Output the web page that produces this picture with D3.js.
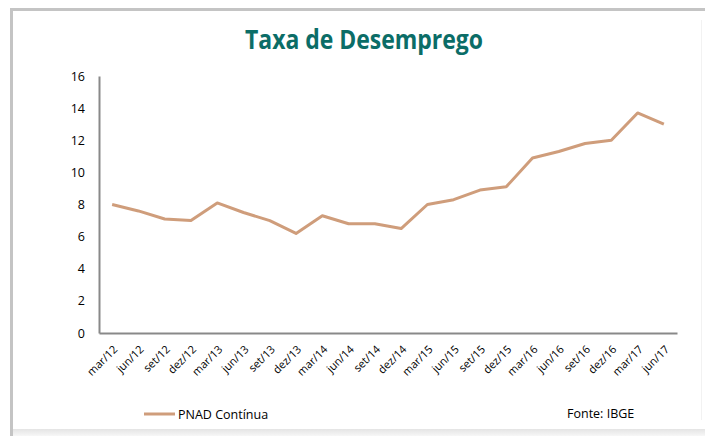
<!DOCTYPE html>
<html lang='pt'>
<head>
<meta charset='utf-8'>
<title>Taxa de Desemprego</title>
<script src='https://d3js.org/d3.v7.min.js'></script>
<style>
  body { margin: 0; background: #fff; }
  text { font-family: 'Open Sans', sans-serif; }
</style>
</head>
<body>
<script>
'use strict'
// trimestres
const periods = ['mar/12', 'jun/12', 'set/12', 'dez/12', 'mar/13', 'jun/13', 'set/13', 'dez/13',
  'mar/14', 'jun/14', 'set/14', 'dez/14', 'mar/15', 'jun/15', 'set/15', 'dez/15',
  'mar/16', 'jun/16', 'set/16', 'dez/16', 'mar/17', 'jun/17']
// taxa de desemprego (%)
const pnad = [8.0, 7.6, 7.1, 7.0, 8.1, 7.5, 7.0, 6.2, 7.3, 6.8, 6.8, 6.5,
  8.0, 8.3, 8.9, 9.1, 10.9, 11.3, 11.8, 12.0, 13.7, 13.0]
const yTicks = [0, 2, 4, 6, 8, 10, 12, 14, 16]

const W = 705, H = 436
const plot = {left: 99, right: 677, top: 76, bottom: 333}
const lineColor = '#cf9d7b'
const axisColor = '#898989'

const svg = d3.select('body').append('svg')
  .attr('width', W)
  .attr('height', H)

// moldura
const grad = svg.append('defs').append('linearGradient')
  .attr('id', 'shade').attr('x1', 0).attr('y1', 0).attr('x2', 0).attr('y2', 1)
grad.append('stop').attr('offset', '0%').attr('stop-color', '#e4e4e4')
grad.append('stop').attr('offset', '100%').attr('stop-color', '#f7f7f7')
svg.append('rect').attr('x', 10).attr('y', 429).attr('width', W - 10).attr('height', 7)
  .attr('fill', 'url(#shade)')
svg.append('rect').attr('x', 10).attr('y', 8).attr('width', W - 10).attr('height', 3).attr('fill', '#c4c4c4')
svg.append('rect').attr('x', 10).attr('y', 8).attr('width', 3).attr('height', H - 8).attr('fill', '#c4c4c4')
svg.append('rect').attr('x', 701).attr('y', 20).attr('width', 1).attr('height', 400).attr('fill', '#f2f2f2')

svg.append('text')
  .attr('x', 364).attr('y', 49)
  .attr('text-anchor', 'middle')
  .attr('font-size', 26)
  .attr('font-weight', 'bold')
  .attr('fill', '#0b6d67')
  .attr('textLength', 238)
  .attr('lengthAdjust', 'spacingAndGlyphs')
  .text('Taxa de Desemprego')

const x = d3.scaleBand().domain(periods).range([plot.left, plot.right])
const y = d3.scaleLinear().domain([0, 16]).range([plot.bottom, plot.top])

const yAxis = svg.append('g')
  .attr('transform', `translate(${plot.left},0)`)
  .call(d3.axisLeft(y).tickValues(yTicks).tickSize(0).tickPadding(14))
yAxis.select('.domain').attr('stroke', axisColor).attr('stroke-width', 2)
yAxis.selectAll('text').attr('font-size', 12.5).attr('fill', '#000')
  .attr('font-family', "'Open Sans', sans-serif")

const xAxis = svg.append('g')
  .attr('transform', `translate(0,${plot.bottom})`)
  .call(d3.axisBottom(x).tickSize(0).tickPadding(0))
xAxis.select('.domain').attr('stroke', axisColor).attr('stroke-width', 2)
xAxis.selectAll('text')
  .attr('font-size', 11)
  .attr('font-family', "'Open Sans', sans-serif")
  .attr('fill', '#000')
  .attr('text-anchor', 'end')
  .attr('dy', null)
  .attr('y', 0)
  .attr('transform', 'translate(6,17) rotate(-45)')

const line = d3.line()
  .x((d, i) => x(periods[i]) + x.bandwidth() / 2)
  .y(d => y(d))

svg.append('path')
  .datum(pnad)
  .attr('d', line)
  .attr('fill', 'none')
  .attr('stroke', lineColor)
  .attr('stroke-width', 3)
  .attr('stroke-linejoin', 'round')

// legenda
svg.append('line')
  .attr('x1', 144).attr('x2', 175).attr('y1', 414).attr('y2', 414)
  .attr('stroke', lineColor).attr('stroke-width', 3)
svg.append('text')
  .attr('x', 178).attr('y', 419)
  .attr('font-size', 12.5)
  .text('PNAD Contínua')
svg.append('text')
  .attr('x', 567).attr('y', 418)
  .attr('font-size', 12.5)
  .text('Fonte: IBGE')
</script>
</body>
</html>
